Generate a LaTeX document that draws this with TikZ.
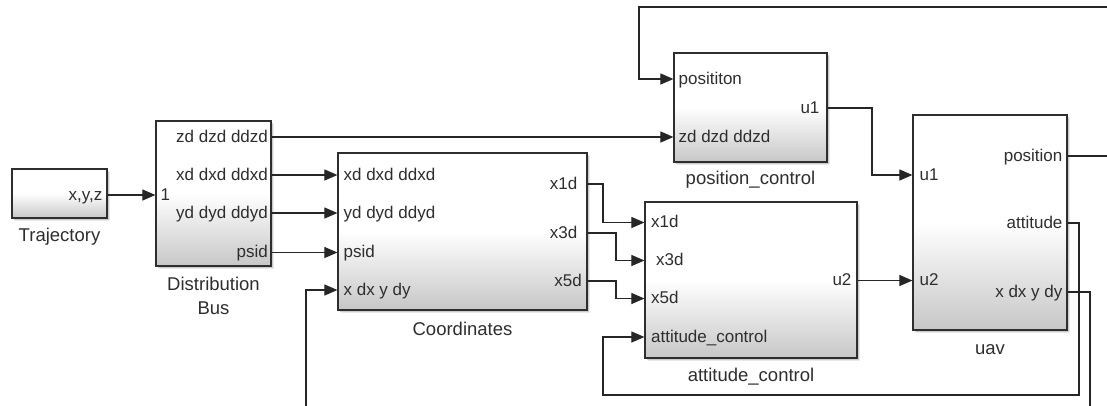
\documentclass[tikz,border=0pt]{standalone}
\usepackage{fontspec}
\setmainfont{Liberation Sans}
\usetikzlibrary{arrows.meta,shadows}
\begin{document}
\begin{tikzpicture}[x=1pt,y=-1pt,
  blk/.style={draw=black!82, line width=1.2pt, top color=white, bottom color=black!22, middle color=white,
    drop shadow={shadow xshift=3.2pt,shadow yshift=-3.2pt,fill=black!16},
    drop shadow={shadow xshift=1.6pt,shadow yshift=-1.6pt,fill=black!32},
    inner sep=0pt},
  plab/.style={font=\fontsize{17}{17}\selectfont, text=black!82, inner sep=0pt},
  olab/.style={plab, anchor=base east, yshift=-5pt},
  ilab/.style={plab, anchor=base west, yshift=-5pt},
  nlab/.style={font=\fontsize{18.5}{18.5}\selectfont, text=black!82, inner sep=0pt, anchor=base},
  conn/.style={draw=black!85, line width=1.1pt},
  arr/.style={conn, -{Triangle[length=13pt,width=11pt]}}
]
\useasboundingbox (0,0) rectangle (1107,405);
\fill[white] (0,0) rectangle (1107,405);

% blocks
\node[blk, minimum width=95pt, minimum height=49pt] (traj) at (59.5,193.5) {};
\node[blk, minimum width=115pt, minimum height=145pt] (dist) at (213.5,193.5) {};
\node[blk, minimum width=249pt, minimum height=157pt] (coord) at (462.5,231.5) {};
\node[blk, minimum width=153pt, minimum height=109pt] (pos) at (750.5,107.5) {};
\node[blk, minimum width=212pt, minimum height=156pt] (att) at (751,280) {};
\node[blk, minimum width=154pt, minimum height=215pt] (uav) at (990,222.5) {};

% block names
\node[nlab, yshift=-23pt] (trajname) at (traj.south) {Trajectory};
\node[nlab, yshift=-23.6pt] (distname1) at (dist.south) {Distribution};
\node[nlab, yshift=-48pt] (distname2) at (dist.south) {Bus};
\node[nlab, yshift=-24.6pt] (coordname) at (coord.south) {Coordinates};
\node[nlab, yshift=-21.5pt] (posname) at (pos.south) {position\_control};
\node[nlab, yshift=-23pt] (attname) at (att.south) {attitude\_control};
\node[nlab, yshift=-24pt] (uavname) at (uav.south) {uav};

% port labels: outputs
\node[olab, xshift=-5pt] (trajo) at (traj.east |- 0,195) {x,y,z};
\node[olab, xshift=-3.5pt] (disto1) at (dist.east |- 0,137) {zd dzd ddzd};
\node[olab, xshift=-3.5pt] (disto2) at (dist.east |- 0,175) {xd dxd ddxd};
\node[olab, xshift=-3.5pt] (disto3) at (dist.east |- 0,213.5) {yd dyd ddyd};
\node[olab, xshift=-3.5pt] (disto4) at (dist.east |- 0,252.5) {psid};
\node[olab, xshift=-10pt] (coordo1) at (coord.east |- 0,184) {x1d};
\node[olab, xshift=-10pt] (coordo2) at (coord.east |- 0,233) {x3d};
\node[olab, xshift=-5.5pt] (coordo3) at (coord.east |- 0,281) {x5d};
\node[olab, xshift=-8pt] (poso1) at (pos.east |- 0,108) {u1};
\node[olab, xshift=-6pt] (atto1) at (att.east |- 0,280.5) {u2};
\node[olab, xshift=-5pt] (uavo1) at (uav.east |- 0,156) {position};
\node[olab, xshift=-5pt] (uavo2) at (uav.east |- 0,223) {attitude};
\node[olab, xshift=-5pt] (uavo3) at (uav.east |- 0,292) {x dx y dy};

% port labels: inputs
\node[ilab, xshift=5pt] (disti1) at (dist.west |- 0,195) {1};
\node[ilab, xshift=6pt] (coordi1) at (coord.west |- 0,175) {xd dxd ddxd};
\node[ilab, xshift=6pt] (coordi2) at (coord.west |- 0,213) {yd dyd ddyd};
\node[ilab, xshift=6pt] (coordi3) at (coord.west |- 0,252.5) {psid};
\node[ilab, xshift=6pt] (coordi4) at (coord.west |- 0,290) {x dx y dy};
\node[ilab, xshift=5pt] (posi1) at (pos.west |- 0,79) {posititon};
\node[ilab, xshift=5pt] (posi2) at (pos.west |- 0,137) {zd dzd ddzd};
\node[ilab, xshift=6.5pt] (atti1) at (att.west |- 0,222.5) {x1d};
\node[ilab, xshift=11.5pt] (atti2) at (att.west |- 0,260.5) {x3d};
\node[ilab, xshift=6.5pt] (atti3) at (att.west |- 0,298.5) {x5d};
\node[ilab, xshift=6.5pt] (atti4) at (att.west |- 0,337) {attitude\_control};
\node[ilab, xshift=7pt] (uavi1) at (uav.west |- 0,175) {u1};
\node[ilab, xshift=7pt] (uavi2) at (uav.west |- 0,280.5) {u2};

% connectors
\draw[arr] (traj.east |- 0,195) -- (dist.west |- 0,195);
\draw[arr] (dist.east |- 0,137) -- (pos.west |- 0,137);
\draw[arr] (dist.east |- 0,175) -- (coord.west |- 0,175);
\draw[arr] (dist.east |- 0,213) -- (coord.west |- 0,213);
\draw[arr] (dist.east |- 0,252.5) -- (coord.west |- 0,252.5);
\draw[arr] (coord.east |- 0,184) -| (603,222.5) -- (att.west |- 0,222.5);
\draw[arr] (coord.east |- 0,233) -| (616,260.5) -- (att.west |- 0,260.5);
\draw[arr] (coord.east |- 0,281) -| (616,298.5) -- (att.west |- 0,298.5);
\draw[arr] (pos.east |- 0,108) -| (872,175) -- (uav.west |- 0,175);
\draw[arr] (att.east |- 0,280.5) -- (uav.west |- 0,280.5);
\draw[arr] (uav.east |- 0,156) -- (1113,156) -- (1113,7) -| (639,79) -- (pos.west |- 0,79);
\draw[arr] (uav.east |- 0,223) -| (1079,395) -| (603,337) -- (att.west |- 0,337);
\draw[arr] (uav.east |- 0,292) -| (1090,406.2) -| (306,290) -- (coord.west |- 0,290);
\end{tikzpicture}
\end{document}
